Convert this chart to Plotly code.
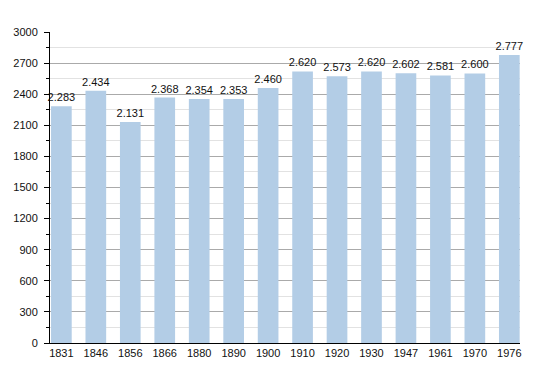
import plotly.graph_objects as go

years = ["1831", "1846", "1856", "1866", "1880", "1890", "1900", "1910", "1920", "1930", "1947", "1961", "1970", "1976"]
population = [2283, 2434, 2131, 2368, 2354, 2353, 2460, 2620, 2573, 2620, 2602, 2581, 2600, 2777]
labels = [f"{v:,}".replace(",", ".") for v in population]

fig = go.Figure(go.Bar(
    x=years, y=population, text=labels, textposition="outside",
    constraintext="none", width=0.6,
    marker=dict(color="#b3cde6", line=dict(width=0)),
    textfont=dict(size=11, color="#111", family="Liberation Sans, Arial"),
    cliponaxis=False,
))
fig.update_layout(
    width=550, height=373,
    margin=dict(l=42, r=38, t=24, b=38),
    plot_bgcolor="white", paper_bgcolor="white",
    showlegend=False,
    font=dict(family="Liberation Sans, Arial", size=11, color="#111"),
)
fig.update_yaxes(
    range=[0, 3000], tick0=0, dtick=300, automargin=False,
    showgrid=True, gridcolor="#aaaaaa", gridwidth=1,
    minor=dict(dtick=150, showgrid=True, gridcolor="#e2e2e2", ticks="outside", ticklen=3, tickcolor="#000"),
    ticks="outside", ticklen=5, tickcolor="#000", ticklabelstandoff=4,
    showline=True, linecolor="#000", linewidth=1,
    zeroline=False,
)
fig.update_xaxes(
    type="category", range=[-0.33, 13.31],
    showline=True, linecolor="#000", linewidth=1, automargin=False,
    ticks="", showgrid=False,
)
fig.write_html("out.html")
